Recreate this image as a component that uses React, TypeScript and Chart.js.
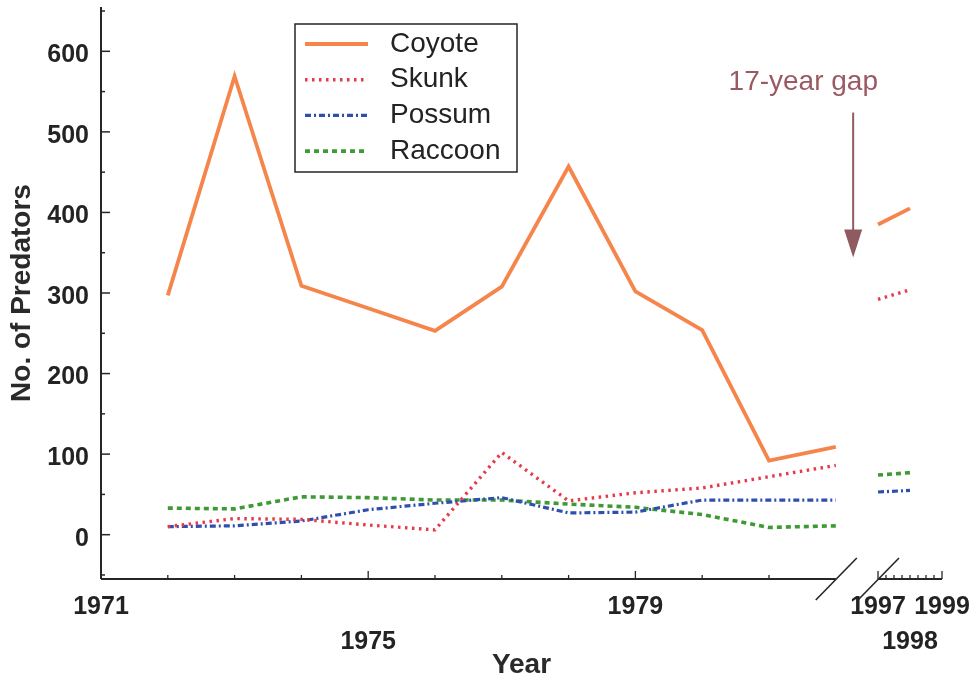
import React, { useEffect, useRef } from "react";
import { Chart, registerables } from "chart.js";

Chart.register(...registerables);

// ---------------- data ----------------
const YEARS = [1972, 1973, 1974, 1975, 1976, 1977, 1978, 1979, 1980, 1981, 1982, 1997, 1998];
const COYOTE = [297, 569, 309, 281, 253, 308, 457, 302, 254, 92, 109, 385, 405];
const SKUNK = [10, 20, 19, 12, 6, 102, 42, 52, 58, 72, 86, 292, 304];
const POSSUM = [10, 11, 17, 31, 39, 46, 27, 28, 43, 43, 43, 53, 55];
const RACCOON = [33, 32, 47, 46, 43, 43, 38, 34, 25, 9, 11, 74, 77];

const SERIES_NAMES = ["Coyote", "Skunk", "Possum", "Raccoon"];

const X_TICK_YEARS = [1971, 1975, 1979, 1997, 1998, 1999];
const X_TICK_ROW = [0, 1, 0, 0, 1, 0];
const X_MAJOR_YEARS = [1971, 1975, 1979];
const Y_TICKS = [0, 100, 200, 300, 400, 500, 600];
const Y_MINOR = [-50, 50, 150, 250, 350, 450, 550, 650];
const Y_MIN = -55;
const Y_MAX = 655;

// axis break: 1971-1982 | 17-year gap | 1997-1999 (compressed)
const LEFT_START = 1971;
const LEFT_END = 1982;
const RIGHT_START = 1997;
const RIGHT_END = 1999;
const GAP = 0.632;
const RIGHT_SCALE = 0.479;

const ANNOT_TEXT = "17-year gap";
const ANNOT_TEXT_Y = 552;
const ANNOT_ARROW_OFFSET = 0.26; // years after LEFT_END on the axis
const ANNOT_ARROW_TOP = 524;
const ANNOT_ARROW_TIP = 344;

function toAxis(year: number): number {
  return year <= LEFT_END ? year : LEFT_END + GAP + (year - RIGHT_START) * RIGHT_SCALE;
}

const FONT = '"Liberation Sans", Arial, Helvetica, sans-serif';
const AXIS_COLOR = "#262626";
const TEXT_COLOR = "#232323";

const STYLES = [
  { color: "#f5854b", width: 3.8, dash: [] as number[] },
  { color: "#e8394b", width: 3.4, dash: [2.5, 4.5] },
  { color: "#2f4fb0", width: 3.2, dash: [6, 3, 2, 3] },
  { color: "#3f9a35", width: 3.6, dash: [5, 4] },
];

const decorPlugin = {
  id: "decor",
  afterDraw(chart: any) {
    const { ctx, chartArea: a, scales } = chart;
    const x = scales.x;
    const y = scales.y;
    const line = (x0: number, y0: number, x1: number, y1: number) => {
      ctx.beginPath();
      ctx.moveTo(x0, y0);
      ctx.lineTo(x1, y1);
      ctx.stroke();
    };
    ctx.save();
    ctx.strokeStyle = AXIS_COLOR;
    ctx.lineCap = "butt";
    ctx.lineWidth = 2;
    // y axis
    line(a.left, a.top, a.left, a.bottom);
    ctx.lineWidth = 1.5;
    Y_TICKS.forEach((v) => {
      const py = y.getPixelForValue(v);
      line(a.left, py, a.left + 9, py);
    });
    Y_MINOR.forEach((v) => {
      const py = y.getPixelForValue(v);
      line(a.left, py, a.left + 4, py);
    });
    // x axis segments
    const xL = x.getPixelForValue(toAxis(LEFT_END));
    const xR0 = x.getPixelForValue(toAxis(RIGHT_START));
    const xR1 = x.getPixelForValue(toAxis(RIGHT_END));
    ctx.lineWidth = 2;
    line(a.left, a.bottom, xL, a.bottom);
    line(xR0, a.bottom, xR1, a.bottom);
    ctx.lineWidth = 1.3;
    for (let yr = LEFT_START + 1; yr <= LEFT_END - 1; yr++) {
      const px = x.getPixelForValue(toAxis(yr));
      const len = X_MAJOR_YEARS.includes(yr) ? 8 : 4;
      line(px, a.bottom, px, a.bottom - len);
    }
    for (let q = 0; q <= 8; q++) {
      const yr = RIGHT_START + q * 0.25;
      const px = x.getPixelForValue(toAxis(yr));
      const len = q === 0 || q === 8 ? 8 : 4;
      line(px, a.bottom, px, a.bottom - len);
    }
    // break marks
    ctx.lineWidth = 1.6;
    [xL, xR0].forEach((px) => {
      line(px - 20, a.bottom + 21, px + 21, a.bottom - 21);
    });

    // annotation
    const annotColor = "#8f5a60";
    ctx.fillStyle = "#9a5a62";
    ctx.font = `28px ${FONT}`;
    ctx.textAlign = "right";
    ctx.textBaseline = "alphabetic";
    ctx.fillText(ANNOT_TEXT, xR0, y.getPixelForValue(ANNOT_TEXT_Y));
    const ax = x.getPixelForValue(LEFT_END + ANNOT_ARROW_OFFSET);
    const ayTop = y.getPixelForValue(ANNOT_ARROW_TOP);
    const ayTip = y.getPixelForValue(ANNOT_ARROW_TIP);
    ctx.strokeStyle = annotColor;
    ctx.lineWidth = 2;
    line(ax, ayTop, ax, ayTip - 24);
    ctx.fillStyle = annotColor;
    ctx.beginPath();
    ctx.moveTo(ax - 9, ayTip - 28);
    ctx.lineTo(ax + 9, ayTip - 28);
    ctx.lineTo(ax, ayTip);
    ctx.closePath();
    ctx.fill();

    // legend
    const bx = a.left + 194;
    const by = a.top + 17;
    const bw = 222;
    const bh = 148;
    ctx.fillStyle = "#ffffff";
    ctx.fillRect(bx, by, bw, bh);
    ctx.strokeStyle = AXIS_COLOR;
    ctx.lineWidth = 1.5;
    ctx.strokeRect(bx, by, bw, bh);
    chart.data.datasets.forEach((ds: any, i: number) => {
      const ry = by + 20 + i * 35.7;
      ctx.save();
      ctx.strokeStyle = ds.borderColor;
      ctx.lineWidth = ds.borderWidth;
      ctx.setLineDash(ds.borderDash || []);
      line(bx + 10, ry, bx + 73, ry);
      ctx.restore();
      ctx.fillStyle = TEXT_COLOR;
      ctx.font = `28px ${FONT}`;
      ctx.textAlign = "left";
      ctx.textBaseline = "middle";
      ctx.fillText(ds.label, bx + 95, ry);
    });
    ctx.restore();
  },
};

export default function App() {
  const ref = useRef<HTMLCanvasElement | null>(null);
  useEffect(() => {
    const canvas = ref.current;
    if (!canvas) return;
    const seriesValues = [COYOTE, SKUNK, POSSUM, RACCOON];
    const chart = new Chart(canvas, {
      type: "line",
      data: {
        datasets: SERIES_NAMES.map((name, si) => ({
          label: name,
          data: YEARS.map((yr, i) => ({ x: toAxis(yr), y: seriesValues[si][i] })),
          borderColor: STYLES[si].color,
          borderWidth: STYLES[si].width,
          borderDash: STYLES[si].dash,
          pointRadius: 0,
          tension: 0,
          fill: false,
          segment: {
            borderColor: (c: any) =>
              YEARS[c.p1DataIndex] - YEARS[c.p0DataIndex] > 1 ? "rgba(0,0,0,0)" : undefined,
          },
        })),
      },
      options: {
        animation: false,
        responsive: false,
        devicePixelRatio: 1,
        layout: { padding: { top: 7, right: 31, left: 0, bottom: 0 } },
        plugins: { legend: { display: false }, tooltip: { enabled: false } },
        scales: {
          x: {
            type: "linear",
            min: LEFT_START,
            max: toAxis(RIGHT_END),
            grid: { display: false, drawTicks: false },
            border: { display: false },
            afterBuildTicks: (s: any) => {
              s.ticks = X_TICK_YEARS.map((yr) => ({ value: toAxis(yr) }));
            },
            ticks: {
              autoSkip: false,
              maxRotation: 0,
              minRotation: 0,
              padding: 10.5,
              color: TEXT_COLOR,
              font: { family: FONT, size: 25, weight: "bold", lineHeight: 1.4 },
              callback: (_v: any, i: number) =>
                X_TICK_ROW[i] ? ["", String(X_TICK_YEARS[i])] : String(X_TICK_YEARS[i]),
            },
            title: {
              display: true,
              text: "Year",
              color: "#2a2a2a",
              font: { family: FONT, size: 28, weight: "bold", lineHeight: 1 },
              padding: { top: 0, bottom: 2 },
            },
            afterFit: (s: any) => {
              s.height = 102;
              s.paddingLeft = 0;
              s.paddingRight = 0;
            },
          },
          y: {
            type: "linear",
            min: Y_MIN,
            max: Y_MAX,
            grid: { display: false, drawTicks: false },
            border: { display: false },
            afterBuildTicks: (s: any) => {
              s.ticks = Y_TICKS.map((v) => ({ value: v }));
            },
            ticks: {
              padding: 12,
              labelOffset: 4,
              color: TEXT_COLOR,
              font: { family: FONT, size: 25, weight: "bold" },
            },
            title: {
              display: true,
              text: "No. of Predators",
              color: "#2a2a2a",
              font: { family: FONT, size: 28, weight: "bold", lineHeight: 1 },
              padding: { top: 8, bottom: 0 },
            },
            afterFit: (s: any) => {
              s.width = 101;
              s.paddingTop = 0;
              s.paddingBottom = 0;
            },
          },
        },
      } as any,
      plugins: [decorPlugin],
    });
    return () => chart.destroy();
  }, []);

  return (
    <div style={{ position: "absolute", left: 0, top: 0, width: 973, height: 681, background: "#fff" }}>
      <canvas ref={ref} width={973} height={681} style={{ display: "block", width: 973, height: 681 }} />
    </div>
  );
}
